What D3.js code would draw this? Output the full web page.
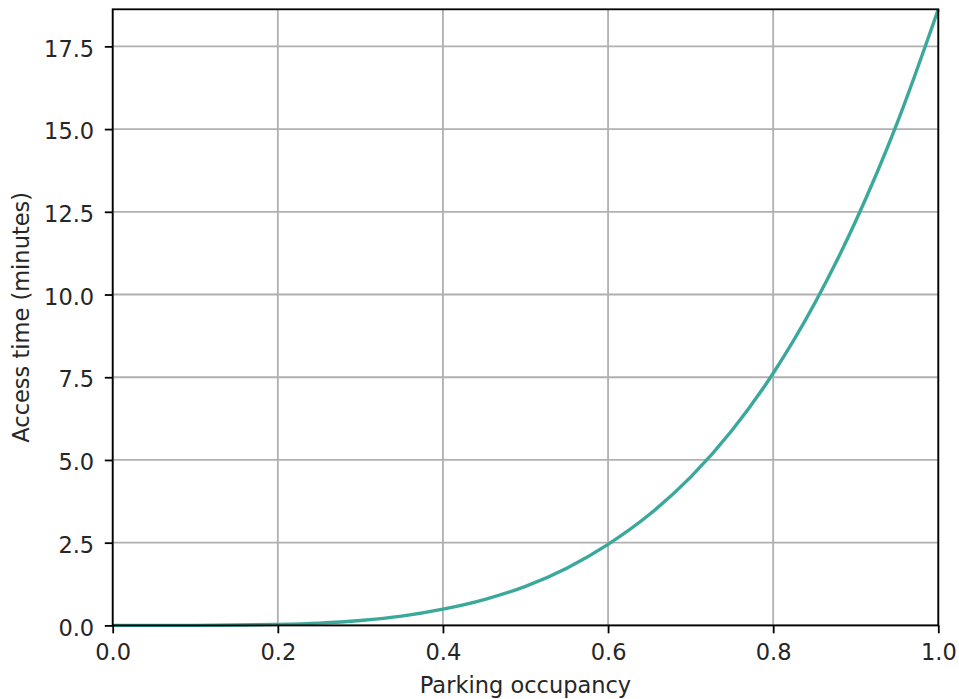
<!DOCTYPE html>
<html>
<head>
<meta charset="utf-8">
<script src="https://cdn.jsdelivr.net/npm/d3@7"></script>
<style>
    html, body { margin: 0; padding: 0; background: #fff; }
    svg text { font-family: "DejaVu Sans", sans-serif; fill: #262626; }
</style>
</head>
<body>
<div id="chart"></div>
<script>
// Access time vs parking occupancy - line chart

// Data
const occupancy = [0, 0.05, 0.1, 0.15, 0.2, 0.25, 0.3, 0.35, 0.4, 0.45, 0.5,
                   0.55, 0.6, 0.65, 0.7, 0.75, 0.8, 0.85, 0.9, 0.95, 1.0];
const accessTime = [0.00, 0.00, 0.00, 0.01, 0.03, 0.07, 0.15, 0.28, 0.49, 0.78, 1.18,
                    1.73, 2.45, 3.35, 4.48, 5.89, 7.62, 9.72, 12.22, 15.17, 18.62];
const xTicks = [0.0, 0.2, 0.4, 0.6, 0.8, 1.0];
const yTicks = [0.0, 2.5, 5.0, 7.5, 10.0, 12.5, 15.0, 17.5];
const xLabel = 'Parking occupancy';
const yLabel = 'Access time (minutes)';

// Configuration
const config = {
    width: 959,
    height: 699,
    left: 112.7,
    right: 938.3,
    top: 9.3,
    bottom: 625.4,
    fontSize: 22.5,
    lineColor: '#3aa99b'
};

const svg = d3.select('#chart')
    .append('svg')
    .attr('width', config.width)
    .attr('height', config.height);

const x = d3.scaleLinear().domain([0, 1]).range([config.left, config.right]);
const y = d3.scaleLinear().domain([0, 18.62]).range([config.bottom, config.top]);

// Grid
const grid = svg.append('g').attr('class', 'grid');
grid.selectAll('line.vx')
    .data(xTicks)
    .enter().append('line')
    .attr('x1', d => x(d)).attr('x2', d => x(d))
    .attr('y1', config.top).attr('y2', config.bottom)
    .attr('stroke', '#b0b0b0')
    .attr('stroke-width', 1.8);
grid.selectAll('line.hy')
    .data(yTicks)
    .enter().append('line')
    .attr('x1', config.left).attr('x2', config.right)
    .attr('y1', d => y(d)).attr('y2', d => y(d))
    .attr('stroke', '#b0b0b0')
    .attr('stroke-width', 1.8);

// Curve
const points = occupancy.map((o, i) => [o, accessTime[i]]);
const line = d3.line()
    .x(d => x(d[0]))
    .y(d => y(d[1]))
    .curve(d3.curveMonotoneX);

svg.append('path')
    .datum(points)
    .attr('d', line)
    .attr('fill', 'none')
    .attr('stroke', config.lineColor)
    .attr('stroke-width', 3.4);

// Axes
const xAxis = d3.axisBottom(x)
    .tickValues(xTicks)
    .tickFormat(d3.format('.1f'))
    .tickSize(7.9)
    .tickPadding(8);
const yAxis = d3.axisLeft(y)
    .tickValues(yTicks)
    .tickFormat(d3.format('.1f'))
    .tickSize(7.9)
    .tickPadding(8);

const gx = svg.append('g')
    .attr('transform', `translate(0,${config.bottom})`)
    .call(xAxis);
const gy = svg.append('g')
    .attr('transform', `translate(${config.left},0)`)
    .call(yAxis);

[gx, gy].forEach(g => {
    g.select('.domain').remove();
    g.selectAll('.tick line').attr('stroke', '#000').attr('stroke-width', 1.8);
    g.selectAll('.tick text')
        .attr('font-size', config.fontSize)
        .attr('font-family', '"DejaVu Sans", sans-serif')
        .attr('fill', '#262626');
});
gx.selectAll('.tick text').attr('y', 34.6).attr('dy', null);
gy.selectAll('.tick text').attr('x', -18.5).attr('dy', '0.43em');

// Frame
svg.append('rect')
    .attr('x', config.left)
    .attr('y', config.top)
    .attr('width', config.right - config.left)
    .attr('height', config.bottom - config.top)
    .attr('fill', 'none')
    .attr('stroke', '#000')
    .attr('stroke-width', 1.8);

// Axis labels
svg.append('text')
    .attr('x', (config.left + config.right) / 2)
    .attr('y', 693)
    .attr('text-anchor', 'middle')
    .attr('font-size', config.fontSize)
    .text(xLabel);

svg.append('text')
    .attr('transform', `translate(28.5,${(config.top + config.bottom) / 2}) rotate(-90)`)
    .attr('text-anchor', 'middle')
    .attr('font-size', config.fontSize)
    .text(yLabel);
</script>
</body>
</html>
